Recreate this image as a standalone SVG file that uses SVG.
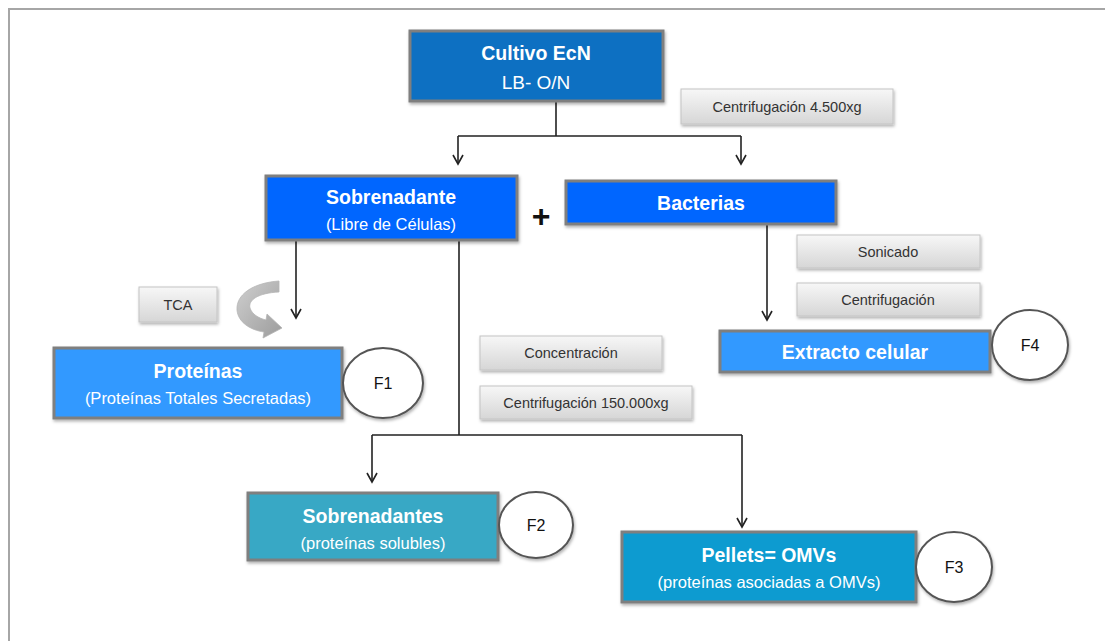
<svg xmlns="http://www.w3.org/2000/svg" width="1105" height="641" viewBox="0 0 1105 641">
<style>
.box{stroke:#7f7f7f;stroke-width:3}
.t{font-family:"Liberation Sans",Arial,sans-serif;fill:#fff;text-anchor:middle}
.b{font-weight:bold;font-size:19.5px}
.s{font-size:16.5px}
.g{fill:url(#gg);stroke:#c4c4c4;stroke-width:1}
.gt{font-family:"Liberation Sans",Arial,sans-serif;font-size:14.5px;fill:#333;text-anchor:middle}
.c{fill:#fff;stroke:#555;stroke-width:2}
.ct{font-family:"Liberation Sans",Arial,sans-serif;font-size:16px;fill:#111;text-anchor:middle}
.ln{fill:none;stroke:#222;stroke-width:1.6}
</style>
<defs>
<linearGradient id="gg" x1="0" y1="0" x2="0" y2="1"><stop offset="0" stop-color="#f7f7f7"/><stop offset="1" stop-color="#d6d6d6"/></linearGradient>
<linearGradient id="ag" x1="0" y1="0" x2="1" y2="1"><stop offset="0" stop-color="#cfcfcf"/><stop offset="1" stop-color="#9c9c9c"/></linearGradient>
<filter id="sh" x="-10%" y="-10%" width="130%" height="140%"><feDropShadow dx="1" dy="2" stdDeviation="1.5" flood-color="#000" flood-opacity="0.3"/></filter>
<marker id="ar" markerWidth="12" markerHeight="12" refX="10" refY="6" orient="auto" markerUnits="userSpaceOnUse"><path d="M1,1 L10,6 L1,11" fill="none" stroke="#222" stroke-width="1.6"/></marker>
</defs>
<rect x="0" y="0" width="1105" height="641" fill="#fff"/>
<rect x="9" y="9" width="1200" height="700" fill="none" stroke="#a6a6a6" stroke-width="2"/>

<g id="connectors">
<path class="ln" d="M556,101 V136 M458,136 H741"/>
<path class="ln" d="M458,136 V164" marker-end="url(#ar)"/>
<path class="ln" d="M741,136 V164" marker-end="url(#ar)"/>
<path class="ln" d="M296,240 V318" marker-end="url(#ar)"/>
<path class="ln" d="M459,240 V435 M372,435 H742"/>
<path class="ln" d="M372,435 V482" marker-end="url(#ar)"/>
<path class="ln" d="M742,435 V527" marker-end="url(#ar)"/>
<path class="ln" d="M767,224 V320" marker-end="url(#ar)"/>
<path d="M279,281 L279,292 C258,293 248,300 250,308 C252,314 258,318 266,320 L267,314 L282,328 L263,338 L264,332 C250,330 238,322 237,310 C236,295 252,283 279,281 Z" fill="url(#ag)" stroke="#b5b5b5" stroke-width="0.8"/>
</g>

<g id="cultivo">
<rect class="box" x="410" y="31" width="253" height="70" fill="#0a70c2" filter="url(#sh)"/>
<text class="t b" x="536" y="60">Cultivo EcN</text>
<text class="t" x="536" y="89" font-size="19">LB- O/N</text>
</g>

<g id="centrif1">
<rect class="g" x="681" y="89" width="212" height="35" filter="url(#sh)"/>
<text class="gt" x="787" y="112">Centrifugación 4.500xg</text>
</g>

<g id="sobrenadante">
<rect class="box" x="266" y="176" width="251" height="64" fill="#0066ff" filter="url(#sh)"/>
<text class="t b" x="391" y="204">Sobrenadante</text>
<text class="t s" x="391" y="230">(Libre de Células)</text>
</g>

<g id="plus">
<text x="541" y="227" font-family="Liberation Sans,Arial,sans-serif" font-size="32" font-weight="bold" fill="#111" text-anchor="middle">+</text>
</g>

<g id="bacterias">
<rect class="box" x="566" y="181" width="270" height="43" fill="#0066ff" filter="url(#sh)"/>
<text class="t b" x="701" y="210">Bacterias</text>
</g>

<g id="tca">
<rect class="g" x="139" y="287" width="78" height="35" filter="url(#sh)"/>
<text class="gt" x="178" y="310">TCA</text>
</g>

<g id="proteinas">
<rect class="box" x="54" y="348" width="288" height="70" fill="#3399ff" filter="url(#sh)"/>
<text class="t b" x="198" y="378">Proteínas</text>
<text class="t s" x="198" y="404">(Proteínas Totales Secretadas)</text>
</g>

<g id="f1">
<ellipse class="c" cx="383" cy="383" rx="40" ry="35" filter="url(#sh)"/>
<text class="ct" x="383" y="389">F1</text>
</g>

<g id="concentracion">
<rect class="g" x="480" y="336" width="182" height="34" filter="url(#sh)"/>
<text class="gt" x="571" y="358">Concentración</text>
</g>

<g id="centrif2">
<rect class="g" x="480" y="386" width="212" height="33" filter="url(#sh)"/>
<text class="gt" x="586" y="408">Centrifugación 150.000xg</text>
</g>

<g id="sonicado">
<rect class="g" x="797" y="235" width="183" height="33" filter="url(#sh)"/>
<text class="gt" x="888" y="257">Sonicado</text>
</g>

<g id="centrif3">
<rect class="g" x="797" y="283" width="183" height="33" filter="url(#sh)"/>
<text class="gt" x="888" y="305">Centrifugación</text>
</g>

<g id="extracto">
<rect class="box" x="720" y="331" width="270" height="41" fill="#3399ff" filter="url(#sh)"/>
<text class="t b" x="855" y="359">Extracto celular</text>
</g>

<g id="f4">
<ellipse class="c" cx="1030" cy="345" rx="38" ry="35" filter="url(#sh)"/>
<text class="ct" x="1030" y="351">F4</text>
</g>

<g id="sobrenadantes">
<rect class="box" x="248" y="493" width="250" height="67" fill="#37a8c5" filter="url(#sh)"/>
<text class="t b" x="373" y="523">Sobrenadantes</text>
<text class="t s" x="373" y="549">(proteínas solubles)</text>
</g>

<g id="f2">
<ellipse class="c" cx="536" cy="525" rx="37" ry="33" filter="url(#sh)"/>
<text class="ct" x="536" y="531">F2</text>
</g>

<g id="pellets">
<rect class="box" x="622" y="532" width="294" height="70" fill="#0f9bd0" filter="url(#sh)"/>
<text class="t b" x="769" y="562">Pellets= OMVs</text>
<text class="t s" x="769" y="588">(proteínas asociadas a OMVs)</text>
</g>

<g id="f3">
<ellipse class="c" cx="954" cy="567" rx="38" ry="35" filter="url(#sh)"/>
<text class="ct" x="954" y="573">F3</text>
</g>
</svg>
